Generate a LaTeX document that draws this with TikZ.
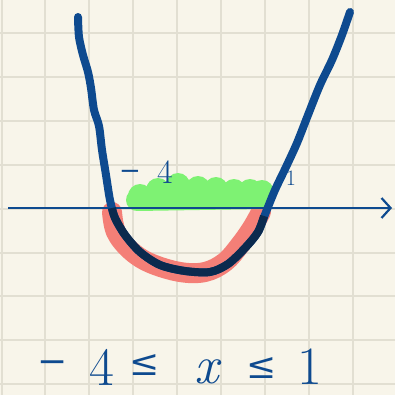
\documentclass[tikz,border=0pt]{standalone}
\usepackage{fontspec}
\newfontfamily\symf{DejaVu Serif}
\usetikzlibrary{arrows.meta}
\definecolor{bgc}{HTML}{F8F5EA}
\definecolor{gridc}{HTML}{E2DFD2}
\definecolor{inkblue}{HTML}{0E4A8F}
\definecolor{navy}{HTML}{0B2A4E}
\definecolor{redhl}{HTML}{F47F77}
\definecolor{greenhl}{HTML}{7EF273}
\begin{document}
\begin{tikzpicture}[x=1pt,y=-1pt,
  gridline/.style={gridc,line width=2pt},
  ink/.style={inkblue,line width=8pt,line cap=round,line join=round},
  hand/.style={inkblue,inner sep=0pt},
  bigtxt/.style={hand,font=\fontsize{54}{58}\selectfont},
  symtxt/.style={hand,font=\fontsize{36}{40}\selectfont},
  smalltxt/.style={hand,font=\fontsize{34}{38}\selectfont},
  smallsym/.style={hand,font=\fontsize{26}{30}\selectfont}]
\fill[bgc] (0,0) rectangle (395,395);
\useasboundingbox (0,0) rectangle (395,395);
\foreach \k in {0,...,9} {
  \draw[gridline] ({1.5+43.9*\k},0) -- ({1.5+43.9*\k},395);
  \draw[gridline] (0,{-10.9+43.9*\k}) -- (395,{-10.9+43.9*\k});
}
% red highlight
\draw[redhl,line width=20pt,line cap=round,line join=round]
  plot[smooth,tension=0.6] coordinates {(112,212) (116,232) (130,250) (150,263) (180,272) (205,272) (225,262) (240,245) (252,228) (261,212)};
% green highlight
\draw[greenhl,line width=22pt,line cap=round] (137,200) -- (262,198);
\foreach \p in {(140,196),(158,190),(178,185),(198,188),(216,189),(234,191),(250,191),(262,192)}
  \fill[greenhl] \p circle (12);
% axis
\coordinate (ax0) at (8,208);
\coordinate (ax1) at (392,208);
\draw[inkblue,line width=2.2pt,-{Straight Barb[length=9pt,width=20pt,line width=2.2pt]}] (ax0) -- (ax1);
% parabola
\draw[ink] plot[smooth,tension=0.5] coordinates {(78,17) (79,37) (83,55) (88,72) (91,88) (94,110) (99,126) (102,150) (106,175) (110,200) (115,218) (125,235) (140,252) (160,265) (185,271) (210,272) (228,264) (245,248) (258,232) (266,212) (275,190) (286,167) (297,143) (308,115) (320,85) (332,60) (342,35) (350,12)};
\draw[navy,line width=8pt,line cap=butt,line join=round] plot[smooth,tension=0.5] coordinates {(112,208) (115,218) (125,235) (140,252) (160,265) (185,271) (210,272) (228,264) (245,248) (258,232) (264,216)};
% labels
\node[smallsym] (lm) at (130,175) {\symf −};
\node[smalltxt] (l4) at (165,172) {4};
\node[hand,font=\fontsize{22}{24}\selectfont] (l1) at (291,178) {1};
\node[symtxt] (b1) at (53,367) {\symf −};
\node[bigtxt] (b2) at (102,367) {4};
\node[symtxt] (b3) at (145,365) {\symf ≤};
\node[bigtxt] (b4) at (207,372) {\itshape x};
\node[symtxt] (b5) at (262,368) {\symf ≤};
\node[bigtxt] (b6) at (310,367) {1};
\end{tikzpicture}
\end{document}
